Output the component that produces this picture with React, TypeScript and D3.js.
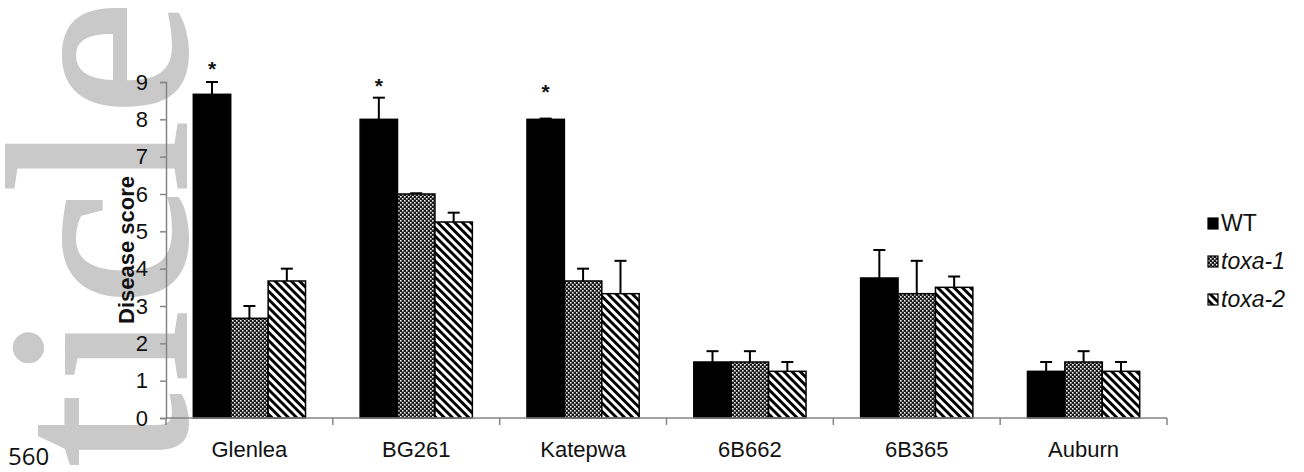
import React, { useEffect, useRef } from "react";
import * as d3 from "d3";

// cultivars on the x axis
const cultivars = ["Glenlea", "BG261", "Katepwa", "6B662", "6B365", "Auburn"];
const seriesNames = ["WT", "toxa-1", "toxa-2"];

// mean disease score per cultivar
const wtScores = [8.67, 8.0, 8.0, 1.5, 3.75, 1.25];
const toxa1Scores = [2.67, 6.0, 3.67, 1.5, 3.33, 1.5];
const toxa2Scores = [3.67, 5.25, 3.33, 1.25, 3.5, 1.25];

// standard error (upper bar only)
const wtErr = [0.33, 0.58, 0.02, 0.29, 0.75, 0.25];
const toxa1Err = [0.33, 0.02, 0.33, 0.29, 0.88, 0.29];
const toxa2Err = [0.33, 0.25, 0.88, 0.25, 0.29, 0.25];

// significance stars above WT bars
const starCultivars = ["Glenlea", "BG261", "Katepwa"];
const starLevels = [9.43, 8.97, 8.81];

const yTicks = [0, 1, 2, 3, 4, 5, 6, 7, 8, 9];

// the "Accepted Article" watermark running up the left edge
const markLetters = ["t", "i", "c", "l", "e"];
const markCentres = [430, 346, 248, 156, 58];

const W = 1304;
const H = 472;

const App = () => {
  const ref = useRef<SVGSVGElement | null>(null);

  useEffect(() => {
    const svg = d3.select(ref.current);
    svg.selectAll("*").remove();

    const font = "Liberation Sans, Arial, sans-serif";
    const left = 166, right = 1167, top = 82, bottom = 418;

    const x = d3.scaleBand<string>().domain(cultivars).range([left, right]).paddingInner(0).paddingOuter(0);
    const inner = d3.scaleBand<string>().domain(seriesNames).range([0, x.bandwidth()]).paddingInner(0).paddingOuter(0.73);
    const y = d3.scaleLinear().domain([0, 9]).range([bottom, top]);

    const defs = svg.append("defs");
    const dots = defs.append("pattern")
      .attr("id", "dots").attr("patternUnits", "userSpaceOnUse")
      .attr("width", 4).attr("height", 4);
    dots.append("rect").attr("width", 4).attr("height", 4).attr("fill", "#1a1a1a");
    dots.append("rect").attr("x", 0).attr("y", 0).attr("width", 1.6).attr("height", 1.6).attr("fill", "#f0f0f0");
    dots.append("rect").attr("x", 2).attr("y", 2).attr("width", 1.6).attr("height", 1.6).attr("fill", "#f0f0f0");

    const stripes = defs.append("pattern")
      .attr("id", "stripes").attr("patternUnits", "userSpaceOnUse")
      .attr("width", 5.8).attr("height", 5.8)
      .attr("patternTransform", "rotate(-45)");
    stripes.append("rect").attr("width", 5.8).attr("height", 5.8).attr("fill", "#fff");
    stripes.append("rect").attr("width", 2.9).attr("height", 5.8).attr("fill", "#000");

    const fills: Record<string, string> = { "WT": "#000", "toxa-1": "url(#dots)", "toxa-2": "url(#stripes)" };

    // watermark, one glyph at a time
    svg.append("g").selectAll("text").data(markLetters).enter().append("text")
      .attr("transform", (d, i) => `translate(185,${markCentres[i]}) rotate(-90)`)
      .attr("text-anchor", "middle")
      .style("font-family", "Liberation Serif, Times New Roman, serif")
      .style("font-size", "256px")
      .attr("fill", "#c9c9c9")
      .attr("stroke", "#c9c9c9").attr("stroke-width", 4)
      .text(d => d);

    svg.append("text")
      .attr("x", 8).attr("y", 465)
      .style("font-family", "Open Sans, sans-serif")
      .style("font-size", "24px")
      .attr("fill", "#111")
      .text("560");

    // y axis
    const yAxis = svg.append("g").attr("transform", `translate(${left},0)`)
      .call(d3.axisLeft(y).tickValues(yTicks).tickSize(6).tickPadding(12).tickFormat(d3.format("d")));
    yAxis.select(".domain").attr("stroke", "#858585").attr("stroke-width", 1.5);
    yAxis.selectAll(".tick line").attr("stroke", "#858585").attr("stroke-width", 1.5);
    yAxis.selectAll(".tick text").style("font-family", font).style("font-size", "22px").attr("fill", "#111");

    svg.append("text")
      .attr("transform", `translate(134,${(top + bottom) / 2}) rotate(-90)`)
      .attr("text-anchor", "middle")
      .style("font-family", font).style("font-size", "22px").style("font-weight", "bold")
      .attr("fill", "#111")
      .text("Disease score");

    // bars
    const data = cultivars.flatMap((c, i) => [
      { c, s: "WT", v: wtScores[i], e: wtErr[i] },
      { c, s: "toxa-1", v: toxa1Scores[i], e: toxa1Err[i] },
      { c, s: "toxa-2", v: toxa2Scores[i], e: toxa2Err[i] },
    ]);

    const bar = svg.append("g").selectAll("g.bar").data(data).enter().append("g").attr("class", "bar");

    bar.append("line")
      .attr("x1", d => x(d.c)! + inner(d.s)! + inner.bandwidth() / 2)
      .attr("x2", d => x(d.c)! + inner(d.s)! + inner.bandwidth() / 2)
      .attr("y1", d => y(d.v)).attr("y2", d => y(d.v + d.e))
      .attr("stroke", "#000").attr("stroke-width", 2);
    bar.append("line")
      .attr("x1", d => x(d.c)! + inner(d.s)! + inner.bandwidth() / 2 - 6)
      .attr("x2", d => x(d.c)! + inner(d.s)! + inner.bandwidth() / 2 + 6)
      .attr("y1", d => y(d.v + d.e)).attr("y2", d => y(d.v + d.e))
      .attr("stroke", "#000").attr("stroke-width", 2);

    bar.append("rect")
      .attr("x", d => x(d.c)! + inner(d.s)!)
      .attr("y", d => y(d.v))
      .attr("width", inner.bandwidth())
      .attr("height", d => y(0) - y(d.v))
      .attr("fill", d => fills[d.s])
      .attr("stroke", "#000").attr("stroke-width", 1.5);

    // x axis
    const xAxis = svg.append("g").attr("transform", `translate(0,${bottom})`);
    xAxis.append("line").attr("x1", left).attr("x2", right).attr("stroke", "#858585").attr("stroke-width", 1.5);
    const bounds = [...cultivars.map(c => x(c)!), right];
    xAxis.selectAll("line.tk").data(bounds).enter().append("line").attr("class", "tk")
      .attr("x1", d => d).attr("x2", d => d).attr("y1", 0).attr("y2", 7)
      .attr("stroke", "#858585").attr("stroke-width", 1.5);
    xAxis.selectAll("text").data(cultivars).enter().append("text")
      .attr("x", d => x(d)! + x.bandwidth() / 2).attr("y", 39)
      .attr("text-anchor", "middle")
      .style("font-family", font).style("font-size", "22px").attr("fill", "#111")
      .text(d => d);

    // stars
    svg.append("g").selectAll("text").data(starCultivars).enter().append("text")
      .attr("x", d => x(d)! + inner("WT")! + inner.bandwidth() / 2)
      .attr("y", (d, i) => y(starLevels[i]) + 10)
      .attr("text-anchor", "middle")
      .style("font-family", font).style("font-size", "21px").style("font-weight", "bold").attr("fill", "#111")
      .text("*");

    // legend
    const legend = svg.append("g").selectAll("g").data(seriesNames).enter().append("g")
      .attr("transform", (d, i) => `translate(1208,${218 + i * 38})`);
    legend.append("rect").attr("width", 10).attr("height", 11)
      .attr("fill", d => fills[d]).attr("stroke", "#000").attr("stroke-width", 1.2);
    legend.append("text").attr("x", 13).attr("y", 13)
      .style("font-family", font).style("font-size", "23px")
      .style("font-style", d => d === "WT" ? "normal" : "italic")
      .attr("fill", "#111")
      .text(d => d);
  }, []);

  return (
    <svg ref={ref} width={W} height={H} style={{ position: "absolute", left: 0, top: 0, background: "#fff" }} />
  );
};

export default App;
